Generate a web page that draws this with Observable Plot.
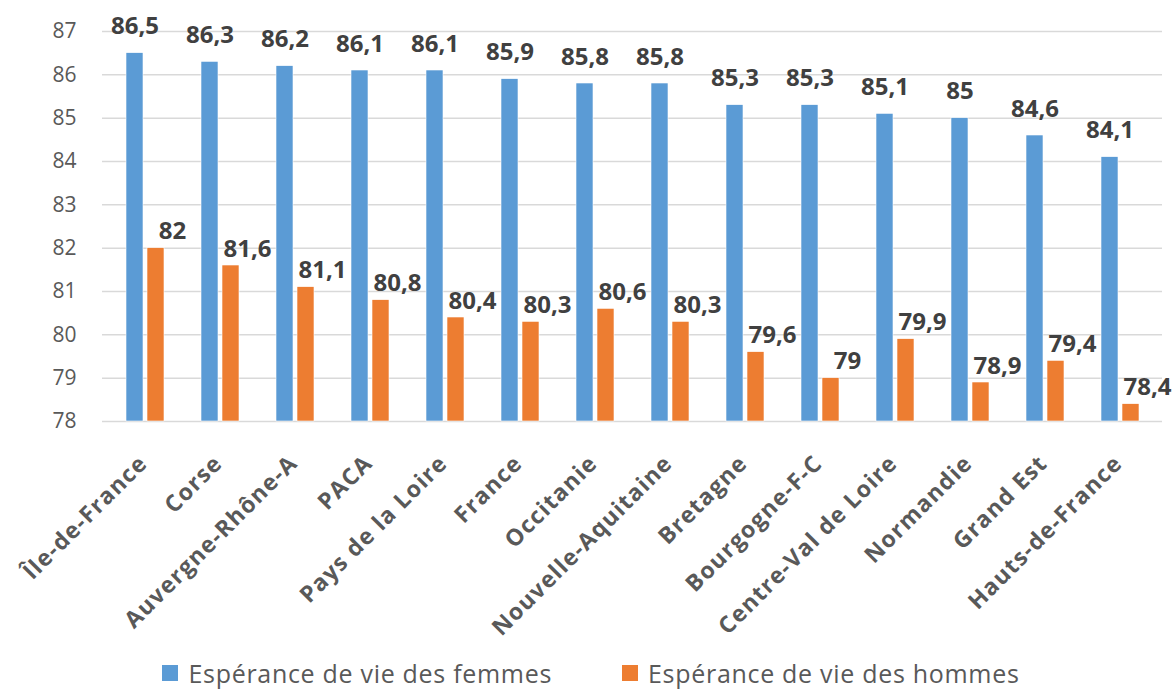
<!DOCTYPE html>
<html>
<head>
<meta charset="utf-8">
<script src="https://cdn.jsdelivr.net/npm/d3@7"></script>
<script src="https://cdn.jsdelivr.net/npm/@observablehq/plot@0.6"></script>
<style>
  html, body { margin: 0; padding: 0; background: #fff; overflow: hidden; }
  #chart svg { display: block; font-family: "Open Sans", sans-serif; }
  #legend { height: 40px; margin-top: 8px; display: flex; justify-content: center; align-items: center; gap: 70px;
            font-family: "Open Sans", sans-serif; font-size: 25px; letter-spacing: 0.7px; color: #595959; margin-left: 10px; line-height: 1; }
  #legend .item { display: flex; align-items: center; gap: 10px; }
  #legend .sw { width: 16px; height: 16px; display: inline-block; }
  g[aria-label="x-axis tick label"] text { font-weight: bold; letter-spacing: 1.2px; }
</style>
</head>
<body>
<div id="chart"></div>
<div id="legend"></div>
<script>
const regions = ["Île-de-France", "Corse", "Auvergne-Rhône-A", "PACA", "Pays de la Loire", "France", "Occitanie", "Nouvelle-Aquitaine", "Bretagne", "Bourgogne-F-C", "Centre-Val de Loire", "Normandie", "Grand Est", "Hauts-de-France"];
const femmes = [86.5, 86.3, 86.2, 86.1, 86.1, 85.9, 85.8, 85.8, 85.3, 85.3, 85.1, 85, 84.6, 84.1];
const hommes = [82, 81.6, 81.1, 80.8, 80.4, 80.3, 80.6, 80.3, 79.6, 79, 79.9, 78.9, 79.4, 78.4];
const series = ["Espérance de vie des femmes", "Espérance de vie des hommes"];
const colors = ["#5B9BD5", "#ED7D31"];
const yTicks = [78, 79, 80, 81, 82, 83, 84, 85, 86, 87];

const dataF = regions.map((r, i) => ({region: r, value: femmes[i]}));
const dataH = regions.map((r, i) => ({region: r, value: hommes[i]}));
const fmt = v => String(v).replace(".", ",");
const base = yTicks[0];

const plot = Plot.plot({
  width: 1172,
  height: 645,
  marginLeft: 102,
  marginRight: 10,
  marginTop: 31,
  marginBottom: 224,
  x: {domain: regions, paddingInner: 0.5, paddingOuter: 0.25, label: null},
  y: {domain: [yTicks[0], yTicks[yTicks.length - 1]], label: null},
  marks: [
    Plot.gridY(yTicks, {stroke: "#d9d9d9", strokeOpacity: 1, strokeWidth: 1.5}),
    Plot.axisY(yTicks, {tickSize: 0, tickPadding: 26, fontSize: 21, fill: "#595959", label: null}),
    Plot.axisX({tickSize: 0, tickPadding: 38, dx: -2, tickRotate: -45, fontSize: 23, fill: "#595959", label: null}),
    Plot.barY(dataF, {x: "region", y1: () => base, y2: "value", fill: colors[0], insetRight: 21, stroke: "white", strokeWidth: 0.6}),
    Plot.barY(dataH, {x: "region", y1: () => base, y2: "value", fill: colors[1], insetLeft: 21, stroke: "white", strokeWidth: 0.6}),
    Plot.text(dataF, {x: "region", y: "value", text: d => fmt(d.value), dx: -10.5, dy: -19, lineAnchor: "bottom",
      fontSize: 24, fontWeight: "bold", fill: "#404040"}),
    Plot.text(dataH, {x: "region", y: "value", text: d => fmt(d.value), dx: 27, dy: -9, lineAnchor: "bottom",
      fontSize: 24, fontWeight: "bold", fill: "#404040"})
  ]
});
document.getElementById("chart").appendChild(plot);

const legend = document.getElementById("legend");
series.forEach((s, i) => {
  const item = document.createElement("div");
  item.className = "item";
  const sw = document.createElement("span");
  sw.className = "sw";
  sw.style.background = colors[i];
  const t = document.createElement("span");
  t.textContent = s;
  item.appendChild(sw);
  item.appendChild(t);
  legend.appendChild(item);
});
</script>
</body>
</html>
